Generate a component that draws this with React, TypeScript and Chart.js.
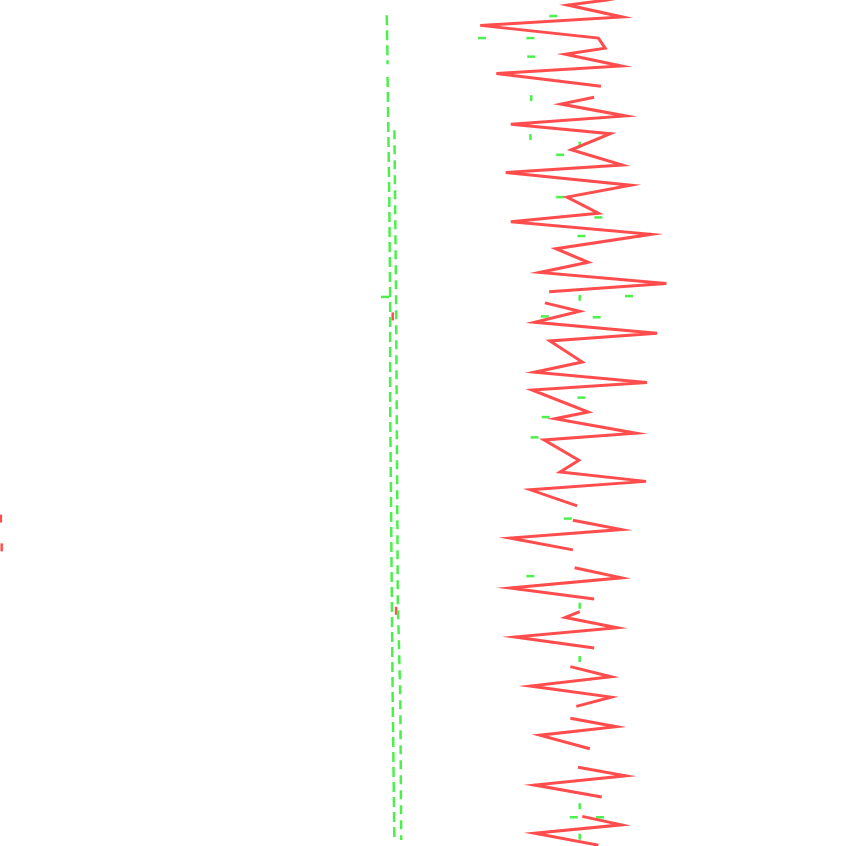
import React, { useEffect, useRef } from "react";
import { Chart, registerables } from "chart.js";

Chart.register(...registerables);

// Signal traces (x = amplitude units 0..100, y = time units 0..100, top to bottom)
// null marks a dropout in the recorded trace
const redX = [75.3, 71.4, 66.8, 73.2, 56.5, 70.4, 71.2, 66.5, 73.1, 58.4, 70.7, null, 69.9, 66.0, 73.6, 60.1, 71.8, 67.2, 73.2, 59.5, 74.2, 66.7, 70.4, 60.1, 76.6, 65.4, 69.2, 63.5, 78.4, 64.6, null, 64.1, 68.2, 62.9, 77.3, 64.7, 68.5, 62.9, 76.1, 62.6, 69.2, 65.3, 74.8, 64.0, 68.1, 65.9, 76.0, 62.4, 67.9, null, 67.4, 73.1, 60.0, 67.4, null, 67.6, 73.1, 60.0, 69.9, null, 68.2, 66.5, 72.6, 60.6, 69.9, null, 67.1, 71.9, 62.4, 71.9, 67.8, null, 67.1, 72.5, 63.5, 69.4, null, 68.0, 73.6, 62.9, 70.8, null, 68.5, 73.1, 62.9, 70.4];
const redT = [-0.7, 0, 0.6, 2.0, 3.0, 4.5, 5.7, 6.4, 7.8, 8.7, 10.2, null, 11.5, 12.3, 13.7, 14.7, 15.8, 17.7, 19.5, 20.4, 21.9, 23.3, 25.2, 26.2, 27.7, 29.4, 31.0, 32.2, 33.5, 34.5, null, 35.8, 36.8, 38.1, 39.4, 40.3, 42.8, 44.0, 45.2, 46.1, 48.7, 49.5, 51.2, 52.0, 54.4, 55.8, 56.9, 57.9, 59.8, null, 61.5, 62.6, 63.6, 65.0, null, 67.1, 68.3, 69.5, 70.8, null, 72.3, 73.0, 74.2, 75.3, 76.6, null, 78.8, 80.0, 81.1, 82.4, 83.5, null, 84.9, 85.9, 86.9, 88.5, null, 90.7, 91.7, 92.8, 94.2, null, 96.5, 97.5, 98.5, 99.9];

const greenAX = [45.5, 45.6, null, 45.6, 45.8, 45.9, 45.9, 46.0, 46.1, 46.2, 46.4];
const greenAT = [1.8, 7.6, null, 9.1, 23.6, 35.5, 47.3, 59.1, 70.9, 82.7, 99.3];

const greenBX = [46.4, 46.6, 46.7, 46.8, 47.1, 47.2];
const greenBT = [15.4, 35.5, 53.2, 70.9, 82.7, 99.3];

const greenDotX = [65.1, 56.7, 62.4, 62.5, 65.9, 65.9, 70.4, 68.4, 74.0, 64.1, 70.2, 68.4, 64.2, 62.9, 66.8, 62.4, 67.5, 70.6, 45.3];
const greenDotT = [1.9, 4.5, 4.5, 6.7, 18.3, 23.3, 25.7, 27.9, 35.0, 37.4, 37.5, 47.0, 49.3, 51.7, 61.3, 68.1, 96.6, 96.6, 35.1];

const greenVX = [62.5, 62.4, 68.2, 68.2, 68.2, 68.2, 68.2, 68.2];
const greenVT = [11.6, 16.2, 17.1, 35.2, 71.6, 77.9, 95.3, 98.9];

const redDotX = [0.1, 0.2, 46.2, 46.6];
const redDotT = [61.3, 64.7, 37.4, 72.2];

const RED = "#ff4d4d";
const GREEN = "#4cf04c";

const pts = (xs: (number | null)[], ts: (number | null)[]) => xs.map((x, i) => ({ x, y: ts[i] }));

export default function App() {
  const ref = useRef<HTMLCanvasElement | null>(null);
  useEffect(() => {
    document.body.style.margin = "0";
    const ctx = ref.current;
    if (!ctx) return;
    const chart = new Chart(ctx, {
      type: "scatter",
      data: {
        datasets: [
          {
            data: pts(redX, redT) as any,
            showLine: true,
            spanGaps: false,
            borderColor: RED,
            backgroundColor: RED,
            borderWidth: 3,
            pointRadius: 0,
          },
          {
            data: pts(greenAX, greenAT) as any,
            showLine: true,
            spanGaps: false,
            borderColor: GREEN,
            borderWidth: 2.5,
            borderDash: [10, 5],
            pointRadius: 0,
          },
          {
            data: pts(greenBX, greenBT) as any,
            showLine: true,
            borderColor: GREEN,
            borderWidth: 2.5,
            borderDash: [9, 6],
            pointRadius: 0,
          },
          {
            data: pts(greenDotX, greenDotT) as any,
            showLine: false,
            borderColor: GREEN,
            backgroundColor: GREEN,
            pointStyle: "line",
            pointRadius: 4,
            borderWidth: 2.5,
          },
          {
            data: pts(greenVX, greenVT) as any,
            showLine: false,
            borderColor: GREEN,
            backgroundColor: GREEN,
            pointStyle: "line",
            rotation: 90,
            pointRadius: 3,
            borderWidth: 2.5,
          },
          {
            data: pts(redDotX, redDotT) as any,
            showLine: false,
            borderColor: RED,
            backgroundColor: RED,
            pointStyle: "line",
            rotation: 90,
            pointRadius: 4,
            borderWidth: 2.5,
          },
        ],
      },
      options: {
        responsive: false,
        animation: false,
        layout: { padding: 0, autoPadding: false },
        plugins: { legend: { display: false }, tooltip: { enabled: false } },
        scales: {
          x: { type: "linear", min: 0, max: 100, display: false },
          y: { type: "linear", min: 0, max: 100, reverse: true, display: false },
        },
      },
    });
    return () => chart.destroy();
  }, []);
  return (
    <div style={{ width: 850, height: 846, background: "#ffffff" }}>
      <canvas ref={ref} width={850} height={846} />
    </div>
  );
}
